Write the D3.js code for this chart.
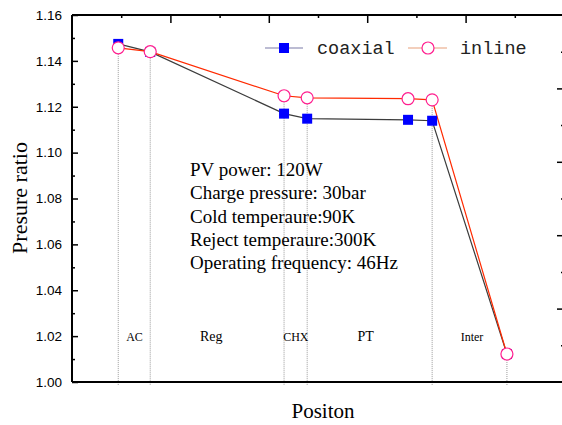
<!DOCTYPE html>
<html>
<head>
<meta charset="utf-8">
<script src="https://cdn.jsdelivr.net/npm/d3@7"></script>
<style>
  body { margin: 0; background: #fff; }
  svg { display: block; }
</style>
</head>
<body>
<div id="chart"></div>
<script>
// data
var positions = [0.94, 1.59, 4.31, 4.78, 6.83, 7.32, 8.84];
var coaxial = [1.1474, 1.1439, 1.1170, 1.1148, 1.1143, 1.1139, 1.0122];
var inline = [1.1457, 1.1440, 1.1248, 1.1239, 1.1235, 1.1230, 1.0122];
var guidePositions = [0.94, 1.59, 4.31, 4.78, 7.32, 8.84];
var regions = ["AC", "Reg", "CHX", "PT", "Inter"];
var regionPos = [1.27, 2.83, 4.55, 5.97, 8.13];
var yTicks = [1.00, 1.02, 1.04, 1.06, 1.08, 1.10, 1.12, 1.14, 1.16];
var notes = ["PV power: 120W", "Charge pressure: 30bar", "Cold temperaure:90K",
             "Reject temperaure:300K", "Operating frequency: 46Hz"];

var svgWidth = 562, svgHeight = 425;
var plotLeft = 72, plotTop = 15, plotBottom = 382;

var svg = d3.select("#chart").append("svg")
    .attr("width", svgWidth)
    .attr("height", svgHeight);

var x = d3.scaleLinear().domain([0, 10]).range([plotLeft, 564]);
var y = d3.scaleLinear().domain([1.00, 1.16]).range([plotBottom, plotTop]);
var y2 = d3.scaleLinear().domain([0, 1]).range([plotBottom, plotTop]);

// guide lines
svg.append("g").selectAll("line")
    .data(guidePositions)
    .enter().append("line")
    .attr("x1", d => x(d)).attr("x2", d => x(d))
    .attr("y1", d => {
        var i = positions.findIndex(p => Math.abs(p - d) < 0.01);
        return y(Math.max(coaxial[i], inline[i]));
    })
    .attr("y2", plotBottom + 3)
    .attr("stroke", "#9a9a9a")
    .attr("stroke-width", 1)
    .attr("stroke-dasharray", "1,1");

// left axis, ticks pointing in
var yAxis = svg.append("g")
    .attr("transform", `translate(${plotLeft},0)`)
    .call(d3.axisLeft(y).tickValues(yTicks).tickSize(-6).tickPadding(10).tickFormat(d3.format(".2f")));
yAxis.select(".domain").remove();
yAxis.selectAll("line").attr("stroke-width", 1.5);
yAxis.selectAll("text").style("font-family", "Liberation Sans, Arial").style("font-size", "13.5px").attr("fill", "#000");

var yMinor = svg.append("g")
    .attr("transform", `translate(${plotLeft},0)`)
    .call(d3.axisLeft(y).tickValues(d3.range(1.01, 1.16, 0.02)).tickSize(-3).tickFormat(""));
yMinor.select(".domain").remove();
yMinor.selectAll("line").attr("stroke-width", 1.5);

// top axis ticks
var topMajor = svg.append("g")
    .attr("transform", `translate(0,${plotTop})`)
    .call(d3.axisBottom(x).tickValues([2, 4, 6, 8]).tickSize(8).tickFormat(""));
topMajor.select(".domain").remove();
topMajor.selectAll("line").attr("stroke-width", 1.5);
var topMinor = svg.append("g")
    .attr("transform", `translate(0,${plotTop})`)
    .call(d3.axisBottom(x).tickValues([1, 3, 5, 7, 9]).tickSize(3).tickFormat(""));
topMinor.select(".domain").remove();
topMinor.selectAll("line").attr("stroke-width", 1.5);

// right axis ticks (cut off at the edge)
var rMajor = svg.append("g")
    .attr("transform", "translate(565,0)")
    .call(d3.axisLeft(y2).tickValues([0.2, 0.4, 0.6, 0.8]).tickSize(8).tickFormat(""));
rMajor.select(".domain").remove();
rMajor.selectAll("line").attr("stroke-width", 1.5);
var rMinor = svg.append("g")
    .attr("transform", "translate(565,0)")
    .call(d3.axisLeft(y2).tickValues([0.1, 0.3, 0.5, 0.7, 0.9]).tickSize(4).tickFormat(""));
rMinor.select(".domain").remove();
rMinor.selectAll("line").attr("stroke-width", 1.5);

// frame lines
svg.append("line").attr("x1", plotLeft).attr("x2", plotLeft).attr("y1", plotTop).attr("y2", plotBottom)
    .attr("stroke", "#000").attr("stroke-width", 2);
svg.append("line").attr("x1", plotLeft).attr("x2", svgWidth).attr("y1", plotTop).attr("y2", plotTop)
    .attr("stroke", "#000").attr("stroke-width", 2);
svg.append("line").attr("x1", plotLeft).attr("x2", svgWidth).attr("y1", plotBottom).attr("y2", plotBottom)
    .attr("stroke", "#000").attr("stroke-width", 2);

// series lines
var line = d3.line().x((d, i) => x(positions[i])).y(d => y(d));
svg.append("path").datum(coaxial)
    .attr("d", line).attr("fill", "none")
    .attr("stroke", "#3c3c3c").attr("stroke-width", 1.2);
svg.append("path").datum(inline)
    .attr("d", line).attr("fill", "none")
    .attr("stroke", "#ff2a00").attr("stroke-width", 1.2);

// markers
svg.append("g").selectAll("rect")
    .data(coaxial)
    .enter().append("rect")
    .attr("x", (d, i) => x(positions[i]) - 5)
    .attr("y", d => y(d) - 5)
    .attr("width", 10).attr("height", 10)
    .attr("fill", "#0000ff");
svg.append("g").selectAll("circle")
    .data(inline)
    .enter().append("circle")
    .attr("cx", (d, i) => x(positions[i]))
    .attr("cy", d => y(d))
    .attr("r", 6)
    .attr("fill", "#fff")
    .attr("stroke", "#ff1f8f").attr("stroke-width", 1.2);

// legend
var legY = 48;
svg.append("line").attr("x1", 265).attr("x2", 303).attr("y1", legY).attr("y2", legY)
    .attr("stroke", "#7a7aa8").attr("stroke-width", 1.2);
svg.append("rect").attr("x", 279).attr("y", legY - 5).attr("width", 10).attr("height", 10)
    .attr("fill", "#0000ff");
svg.append("text").attr("x", 317).attr("y", legY + 6).text("coaxial")
    .style("font-family", "Liberation Mono, monospace").style("font-size", "18.5px").attr("fill", "#222");
svg.append("line").attr("x1", 408).attr("x2", 447).attr("y1", legY).attr("y2", legY)
    .attr("stroke", "#e8a07a").attr("stroke-width", 1.2);
svg.append("circle").attr("cx", 428).attr("cy", legY).attr("r", 6)
    .attr("fill", "#fff").attr("stroke", "#ff1f8f").attr("stroke-width", 1.2);
svg.append("text").attr("x", 460).attr("y", legY + 6).text("inline")
    .style("font-family", "Liberation Mono, monospace").style("font-size", "18.5px").attr("fill", "#222");

// region labels
svg.append("g").selectAll("text")
    .data(regions)
    .enter().append("text")
    .attr("x", (d, i) => x(regionPos[i]))
    .attr("y", y(1.0198))
    .attr("dy", "0.35em")
    .attr("text-anchor", "middle")
    .style("font-family", "Liberation Serif, Times New Roman, serif")
    .style("font-size", d => (d === "Reg" || d === "PT") ? "14px" : "12px")
    .text(d => d);

// notes
svg.append("g").selectAll("text")
    .data(notes)
    .enter().append("text")
    .attr("x", 190)
    .attr("y", (d, i) => 176 + i * 23.3)
    .style("font-family", "Liberation Serif, Times New Roman, serif")
    .style("font-size", "19px")
    .text(d => d);

// axis titles
svg.append("text")
    .attr("transform", "translate(27,198) rotate(-90)")
    .attr("text-anchor", "middle")
    .style("font-family", "Liberation Serif, Times New Roman, serif")
    .style("font-size", "22px")
    .text("Presure ratio");
svg.append("text")
    .attr("x", 323).attr("y", 418)
    .attr("text-anchor", "middle")
    .style("font-family", "Liberation Serif, Times New Roman, serif")
    .style("font-size", "21px")
    .text("Positon");
</script>
</body>
</html>
